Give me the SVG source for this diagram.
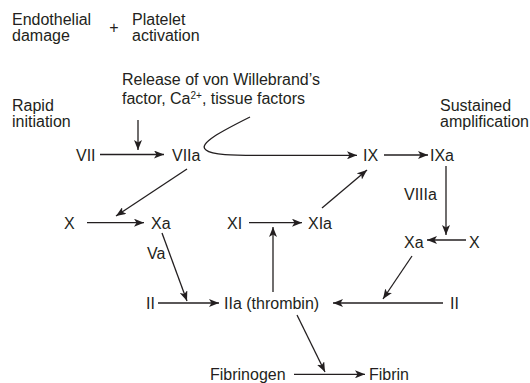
<svg xmlns="http://www.w3.org/2000/svg" width="530" height="383" viewBox="0 0 530 383">
<style>
text{font-family:"Liberation Sans",Arial,sans-serif;font-size:16px;fill:#231f20}
.c{fill:none;stroke:#231f20;stroke-width:1.3}
.a{marker-end:url(#ah)}
</style>
<defs>
<marker id="ah" viewBox="0 0 10 8" refX="10" refY="4" markerWidth="10" markerHeight="8" markerUnits="userSpaceOnUse" orient="auto">
<path d="M0,0 L10,4 L0,8 L2.5,4 z" fill="#231f20"/>
</marker>
</defs>
<rect width="530" height="383" fill="#fff"/>
<g id="labels">
<g id="endothelial"><text x="12" y="25">Endothelial</text><text x="12" y="41">damage</text></g>
<g id="plus"><text x="114" y="33" text-anchor="middle">+</text></g>
<g id="platelet"><text x="132" y="25">Platelet</text><text x="132" y="41">activation</text></g>
<g id="release"><text x="122" y="85">Release of von Willebrand’s</text><text x="122" y="104">factor, Ca<tspan dy="-5" font-size="10">2+</tspan><tspan dy="5">, tissue factors</tspan></text></g>
<g id="rapid"><text x="12" y="111">Rapid</text><text x="12" y="127">initiation</text></g>
<g id="sustained"><text x="440" y="111">Sustained</text><text x="440" y="127">amplification</text></g>
</g>
<g id="nodes">
<g id="VII"><text x="76" y="160.5">VII</text></g>
<g id="VIIa"><text x="172" y="160.5">VIIa</text></g>
<g id="IX"><text x="363" y="160.5">IX</text></g>
<g id="IXa"><text x="430" y="160.5">IXa</text></g>
<g id="VIIIa"><text x="404" y="200">VIIIa</text></g>
<g id="X1"><text x="64" y="228.5">X</text></g>
<g id="Xa1"><text x="151" y="228.5">Xa</text></g>
<g id="XI"><text x="227" y="228.5">XI</text></g>
<g id="XIa"><text x="308" y="228.5">XIa</text></g>
<g id="Xa2"><text x="404" y="247.5">Xa</text></g>
<g id="X2"><text x="469" y="247.5">X</text></g>
<g id="Va"><text x="147" y="259">Va</text></g>
<g id="II1"><text x="146" y="308.5">II</text></g>
<g id="IIa"><text x="224" y="308.5">IIa (thrombin)</text></g>
<g id="II2"><text x="450" y="308.5">II</text></g>
<g id="fibrinogen"><text x="210" y="380">Fibrinogen</text></g>
<g id="fibrin"><text x="369" y="380">Fibrin</text></g>
</g>
<g id="connectors" class="c">
<path class="a" d="M138,120 L138,150"/>
<path class="a" d="M100,154.5 L164,154.5"/>
<path class="a" d="M250,117 C222,131 197,144 206,150 C212,155 232,155.3 262,155.3 L357,155.3"/>
<path class="a" d="M384,155 L428,155"/>
<path class="a" d="M446,166 L446,235"/>
<path class="a" d="M466,240 L427,240"/>
<path class="a" d="M187,169 L116,216"/>
<path class="a" d="M87,222.7 L144,222.7"/>
<path class="a" d="M249,222.7 L302,222.7"/>
<path class="a" d="M322,208 L367,170"/>
<path class="a" d="M162,233 L187,301"/>
<path class="a" d="M158,303 L219,303"/>
<path class="a" d="M273,292 L273,227"/>
<path class="a" d="M412,256 L383,299"/>
<path class="a" d="M443,303 L333,303"/>
<path class="a" d="M297,315 L325,372"/>
<path class="a" d="M294,374.3 L365,374.3"/>
</g>
</svg>
